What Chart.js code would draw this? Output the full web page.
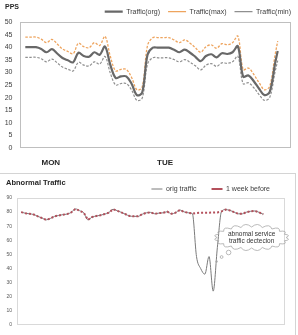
<!DOCTYPE html>
<html><head><meta charset="utf-8">
<script src="https://cdn.jsdelivr.net/npm/chart.js@4.4.0/dist/chart.umd.min.js"></script>
<style>
html,body{margin:0;padding:0;background:#fff;width:298px;height:335px;overflow:hidden;}
#c1{position:absolute;left:0;top:0;}
#panel{position:absolute;left:0;top:173px;width:296px;height:162px;border-top:1px solid #d4d4d4;border-right:1px solid #d4d4d4;box-sizing:border-box;}
#c2{position:absolute;left:0;top:174px;}
</style></head><body>
<canvas id="c1" width="298" height="172"></canvas>
<div id="panel"></div>
<canvas id="c2" width="295" height="161"></canvas>
<script>
// ---------- Chart 1 data (PPS) ----------
const hours = [1,2,3,4,5,6,7,8,9,10,11,12,13,14,15,16,17,18,19,20,21,22,23,24,
  25,26,27,28,29,30,31,32,33,34,35,36,37,38,39,40,41,42,43,44,45,46,47,48,48.5];
const trafficOrg = [40,40,40,39.3,38,39.2,37.5,35.7,34.8,34,37.8,36.5,36.2,38,37,40.3,33,27.8,28.4,28.4,25.5,21,22,37,
  39.8,39.8,39.8,39.8,39,38,39,37.8,36.2,34.5,36.5,37.2,36,37.6,37.3,38,40.4,28.3,28.8,26.5,23.5,21,22.3,33.5,38.5];
const trafficMax = [44,44,44,43.2,41.8,43.1,41.3,39.3,38.3,37.4,41.6,40.2,39.8,41.8,40.7,44.3,36.3,30.6,31.2,31.2,28,23.1,24.2,40.7,
  43.8,43.8,43.8,43.8,42.9,41.8,42.9,41.6,39.8,38,40.2,40.9,39.6,41.4,41,41.8,44.4,31.1,31.7,29.2,25.9,23.1,24.5,36.9,42.4];
const trafficMin = [36,36,36,35.4,34.2,35.3,33.8,32.1,31.3,30.6,34,32.9,32.6,34.2,33.3,36.3,29.7,25,25.6,25.6,23,18.9,19.8,33.3,
  35.8,35.8,35.8,35.8,35.1,34.2,35.1,34,32.6,31,32.9,33.5,32.4,33.8,33.6,34.2,36.4,25.5,25.9,23.9,21.2,18.9,20.1,30.2,34.7];
const seriesNames1 = ['Traffic(org)','Traffic(max)','Traffic(min)'];
const dayLabels = ['MON','TUE'];
const dayTickHours = [5.8, 27.3];
const yTicks1 = {min:0, max:50, step:5};

// ---------- Chart 2 data (Abnormal Traffic) ----------
const weekBefore = [80,79.2,78.8,78.3,77,75.8,74.5,75.5,77,77.6,78.2,78.6,79.8,82.3,81,79.5,74.5,76.5,77.2,77.8,
  78.6,79.6,82,81,79.8,78.5,77.2,77,77,78.5,79.5,79.8,78.8,79.3,79.5,80.3,78.8,79.6,81.5,80.2,
  79.5,79,79.4,79.6,79.6,79.6,79.7,79.8,80.5,81.8,81.2,80,78.8,78.8,80,80.6,80.8,79.8,78.5];
const origTraffic = [80,79.2,78.8,78.3,77,75.8,74.5,75.5,77,77.6,78.2,78.6,79.8,82.3,81,79.5,74.5,76.5,77.2,77.8,
  78.6,79.6,82,81,79.8,78.5,77.2,77,77,78.5,79.5,79.8,78.8,79.3,79.5,80.3,78.8,79.6,81.5,80.2,
  79.5,79,48.5,40,36,48.5,24,55,80.5,81.8,81.2,80,78.8,78.8,80,80.6,80.8,79.8,78.5];
const seriesNames2 = ['orig traffic','1 week before'];
const yTicks2 = {min:0, max:90, step:10};
const bubbleLines = ['abnomal service','traffic dectecion'];
const bubbleAt = {x:55.2, y:62};

Chart.defaults.font.family = "'Liberation Sans', Arial, sans-serif";

// fix title/legend box heights and nudge legend
const boxFix = {
  id:'boxFix',
  beforeInit(chart){
    const o = () => chart.options.plugins.boxFix || {};
    const lg = chart.legend, tb = chart.titleBlock;
    if (lg) { const u = lg.update; lg.update = function(...a){ const r = u.apply(this,a); if (o().legendH!=null){ this.height = o().legendH; this.bottom = this.top + this.height; } return r; }; }
    if (tb) { const u = tb.update; tb.update = function(...a){ const r = u.apply(this,a); if (o().titleH!=null){ this.height = o().titleH; this.bottom = this.top + this.height; } return r; }; }
  },
  afterLayout(chart){
    const o = chart.options.plugins.boxFix || {};
    const lg = chart.legend;
    if (lg) { const dy=o.dy||0, dx=o.dx||0; lg.top+=dy; lg.left+=dx; lg.right+=dx; lg.height = lg.bottom - lg.top; }
  }
};
const plotFrame = {
  id:'plotFrame',
  beforeDatasetsDraw(chart, args, opts){
    const {left,top,right,bottom} = chart.chartArea;
    const ctx = chart.ctx; ctx.save();
    ctx.strokeStyle = opts.color || '#c8c8c8'; ctx.lineWidth = 1;
    ctx.strokeRect(Math.round(left)+0.5, Math.round(top)+0.5, Math.round(right-left)-1, Math.round(bottom-top)-1);
    ctx.restore();
  }
};
const bubble = {
  id:'bubble',
  afterDraw(chart){
    const xs = chart.scales.x, ys = chart.scales.y, ctx = chart.ctx;
    const cx = xs.getPixelForValue(bubbleAt.x), cy = ys.getPixelForValue(bubbleAt.y);
    const rx = 34.5, ry = 10.5, N = 20;
    ctx.save();
    ctx.strokeStyle = '#a8a8a8'; ctx.lineWidth = 0.8;
    ctx.beginPath();
    for (let k=0;k<=N;k++){
      const a = 2*Math.PI*k/N;
      const px = cx + rx*Math.cos(a), py = cy + ry*Math.sin(a);
      if (k===0){ ctx.moveTo(px,py); continue; }
      const am = 2*Math.PI*(k-0.5)/N;
      ctx.quadraticCurveTo(cx+(rx+6)*Math.cos(am), cy+(ry+5.5)*Math.sin(am), px, py);
    }
    ctx.stroke();
    [[-23,15,2.3],[-30,19.5,1.4],[-35,24,0.9]].forEach(([dx,dy,r])=>{
      ctx.beginPath(); ctx.arc(cx+dx, cy+dy, r, 0, 2*Math.PI); ctx.stroke();
    });
    ctx.fillStyle = '#333'; ctx.font = "6.5px 'Liberation Sans', Arial, sans-serif";
    ctx.textAlign = 'center'; ctx.textBaseline = 'middle';
    ctx.fillText(bubbleLines[0], cx, cy-3.4);
    ctx.fillText(bubbleLines[1], cx, cy+3.9);
    ctx.restore();
  }
};

const pts = (xs, ys) => xs.map((x,i)=>({x, y:ys[i]}));

new Chart(document.getElementById('c1'), {
  type:'line',
  data:{datasets:[
    {label:seriesNames1[0], data:pts(hours,trafficOrg), borderColor:'#686868', borderWidth:2.2, pointRadius:0, tension:0.35},
    {label:seriesNames1[1], data:pts(hours,trafficMax), borderColor:'#eea45e', borderWidth:1.3, borderDash:[2.5,1.5], pointRadius:0, tension:0.35},
    {label:seriesNames1[2], data:pts(hours,trafficMin), borderColor:'#8f8f8f', borderWidth:1.2, borderDash:[2.5,1.5], pointRadius:0, tension:0.35}
  ]},
  options:{
    responsive:false, animation:false, devicePixelRatio:1,
    layout:{padding:{left:5,right:7,top:0,bottom:0}},
    scales:{
      x:{type:'linear', min:0, max:51, grid:{display:false, drawTicks:false}, border:{display:false},
        afterBuildTicks(s){ s.ticks = dayTickHours.map(v=>({value:v})); },
        ticks:{autoSkip:false, maxRotation:0, padding:10, font:{size:8, weight:'bold'}, color:'#262626',
          callback:(v,i)=>dayLabels[i]},
        afterFit(s){ s.height = 24; }},
      y:{min:yTicks1.min, max:yTicks1.max, ticks:{stepSize:yTicks1.step, padding:7.5, font:{size:7}, color:'#404040'},
        grid:{display:false, drawTicks:false}, border:{display:false}, afterFit(s){ s.width = 15; }}
    },
    plugins:{
      title:{display:true, text:'PPS', align:'start', font:{size:7, weight:'bold'}, color:'#262626', padding:{top:3.1,bottom:0}},
      legend:{display:true, position:'top', align:'end',
        labels:{usePointStyle:true, pointStyle:'line', pointStyleWidth:18, padding:8, font:{size:7}, color:'#404040'}},
      boxFix:{titleH:4, legendH:18, dx:8, dy:-3.8},
      plotFrame:{color:'#bfbfbf'},
      tooltip:{enabled:false}
    }
  },
  plugins:[boxFix, plotFrame]
});

const idx = weekBefore.map((_,i)=>i);
new Chart(document.getElementById('c2'), {
  type:'line',
  data:{datasets:[
    {label:seriesNames2[0], data:pts(idx,origTraffic), borderColor:'#7a7a7a', borderWidth:1, pointRadius:0, cubicInterpolationMode:'monotone', order:2},
    {label:seriesNames2[1], data:pts(idx,weekBefore), borderColor:'#b4505c', borderWidth:2, borderDash:[2,2], pointRadius:0, order:1}
  ]},
  options:{
    responsive:false, animation:false, devicePixelRatio:1,
    layout:{padding:{left:6,right:10,top:0,bottom:10}},
    scales:{
      x:{type:'linear', min:-1, max:63.2, display:false},
      y:{min:yTicks2.min, max:yTicks2.max, ticks:{stepSize:yTicks2.step, padding:5, font:{size:5}, color:'#595959'},
        grid:{display:false, drawTicks:false}, border:{display:false}, afterFit(s){ s.width = 11; }}
    },
    plugins:{
      title:{display:true, text:'Abnormal Traffic', align:'start', font:{size:7.5, weight:'bold'}, color:'#262626', padding:{top:4.8,bottom:0}},
      legend:{display:true, position:'top', align:'end',
        labels:{usePointStyle:true, pointStyle:'line', pointStyleWidth:11, padding:15, font:{size:7}, color:'#404040',
          sort:(a,b)=>a.datasetIndex-b.datasetIndex}},
      boxFix:{titleH:10, legendH:14, dx:0, dy:-13.5},
      plotFrame:{color:'#d9d9d9'},
      tooltip:{enabled:false}
    }
  },
  plugins:[boxFix, plotFrame, bubble]
});
</script>
</body></html>
